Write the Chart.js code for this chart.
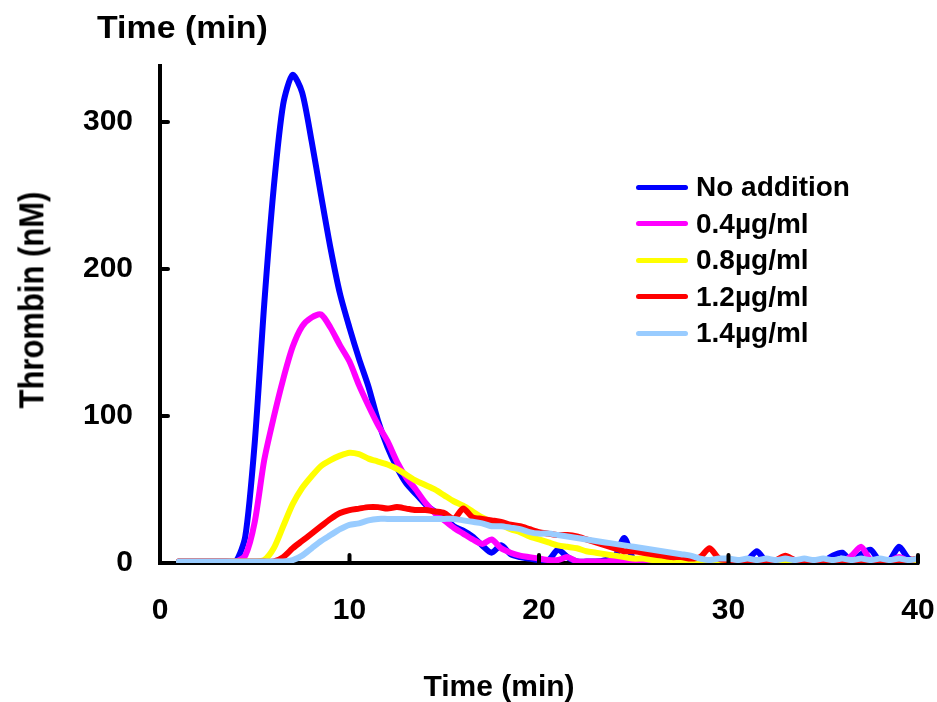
<!DOCTYPE html>
<html>
<head>
<meta charset="utf-8">
<script src="https://cdn.jsdelivr.net/npm/chart.js@4.4.1/dist/chart.umd.min.js"></script>
<style>
  html, body { margin: 0; padding: 0; background: #fff; }
  #wrap { position: relative; width: 937px; height: 702px; font-family: 'Liberation Sans', Arial, sans-serif; font-weight: bold; color: #000; }
  canvas { position: absolute; left: 0; top: 0; }
  .lbl { position: absolute; white-space: nowrap; line-height: 1; }
  #topTitle { left: 97px; top: 11px; font-size: 32px; transform: scaleX(1.06); transform-origin: left center; }
  #xTitle { left: 499px; top: 686px; font-size: 30px; transform: translate(-50%, -50%); }
  #yTitle { left: 32px; top: 300px; font-size: 31px; transform: translate(-50%, -50%) rotate(-90deg) scaleY(1.12); }
  #legend { position: absolute; left: 636px; top: 169px; font-size: 28px; }
  .row { display: flex; align-items: center; height: 36.5px; }
  .swatch { width: 52px; height: 5px; border-radius: 3px; margin-right: 8px; }
</style>
</head>
<body>
<div id="wrap">
  <canvas id="c" width="937" height="702"></canvas>
  <div class="lbl" id="topTitle">Time (min)</div>
  <div class="lbl" id="xTitle">Time (min)</div>
  <div class="lbl" id="yTitle">Thrombin (nM)</div>
  <div id="legend"></div>
</div>
<script>
// ==================== DATA ====================
// sampling every 0.5 min, 1 .. 40
const timeMin = [];
for (let t = 1; t <= 40; t += 0.5) timeMin.push(t);

const seriesNames = ['No addition', '0.4\u00b5g/ml', '0.8\u00b5g/ml', '1.2\u00b5g/ml', '1.4\u00b5g/ml'];
const seriesColors = ['#0000FF', '#FF00FF', '#FFFF00', '#FF0000', '#99CCFF'];

const noAddition = [
  1, 1, 1, 1, 1, 1, 1, 18, 82, 176, 255, 312, 332, 320, 287, 250, 214, 183, 160, 139,
  120, 97, 79, 65, 54, 47, 40, 35, 31, 25, 22, 18, 12, 7, 12, 6, 4, 3, 2, 2,
  9, 4, 1, 1, 1, 2, 4, 17, 2, 1, 1, 1, 1, 1, 1, 1, 1, 1, 1, 1,
  2, 8, 1, 1, 3, 2, 1, 1, 1, 5, 7, 1, 6, 9, 1, 2, 11, 3, 1
];
const dose04 = [
  1, 1, 1, 1, 1, 1, 1, 5, 28, 70, 99, 125, 147, 161, 167, 169, 160, 148, 137, 121,
  107, 94, 83, 69, 58, 50, 41, 34, 29, 24, 20, 16, 13, 16, 10, 7, 5, 4, 3, 2,
  2, 4, 1, 1, 1, 1, 2, 1, 1, 1, 1, 1, 1, 1, 1, 1, 1, 1, 1, 1,
  1, 1, 1, 1, 1, 1, 1, 1, 1, 1, 1, 5, 11, 2, 1, 1, 4, 1, 1
];
const dose08 = [
  1, 1, 1, 1, 1, 1, 1, 1, 1, 2, 10, 25, 40, 51, 59, 66, 70, 73, 75, 74,
  71, 69, 67, 64, 60, 56, 53, 50, 46, 42, 39, 35, 31, 28, 26, 23, 21, 18, 16, 14,
  12, 11, 10, 8, 7, 6, 5, 4, 3, 3, 2, 2, 1, 1, 1, 1, 1, 1, 1, 1,
  1, 1, 1, 1, 1, 1, 1, 1, 1, 1, 1, 1, 1, 1, 1, 1, 1, 1, 1
];
const dose12 = [
  1, 1, 1, 1, 1, 1, 1, 1, 1, 1, 1, 4, 10, 15, 20, 25, 30, 34, 36, 37,
  38, 38, 37, 38, 37, 36, 36, 35, 34, 30, 37, 31, 30, 29, 28, 26, 25, 23, 21, 20,
  19, 19, 18, 16, 14, 12, 10, 8, 8, 7, 6, 5, 4, 4, 3, 4, 10, 3, 2, 2,
  2, 2, 2, 2, 5, 2, 2, 2, 2, 2, 2, 2, 2, 2, 2, 2, 2, 2, 3
];
const dose14 = [
  1, 1, 1, 1, 1, 1, 1, 1, 1, 1, 1, 1, 2, 5, 10, 15, 19, 23, 26, 27,
  29, 30, 30, 30, 30, 30, 30, 30, 30, 30, 29, 28, 27, 25, 25, 24, 23, 21, 20, 20,
  19, 18, 17, 16, 15, 14, 13, 12, 11, 10, 9, 8, 7, 6, 5, 3, 2, 3, 3, 2,
  3, 2, 3, 2, 3, 2, 3, 2, 3, 2, 3, 2, 3, 2, 3, 2, 3, 2, 3
];

const xTicks = [0, 10, 20, 30, 40];
const yTicks = [0, 100, 200, 300];

// ==================== CHART ====================
const allSeries = [noAddition, dose04, dose08, dose12, dose14];
const FONT = "'Liberation Sans', Arial, sans-serif";

// inner tick marks (pointing into the plot)
const innerTicks = {
  id: 'innerTicks',
  afterDatasetsDraw(chart) {
    const { ctx, chartArea, scales } = chart;
    ctx.save();
    ctx.strokeStyle = '#000';
    ctx.lineWidth = 4;
    ctx.lineCap = 'round';
    xTicks.slice(1).forEach(v => {
      const px = scales.x.getPixelForValue(v);
      ctx.beginPath();
      ctx.moveTo(px, chartArea.bottom);
      ctx.lineTo(px, chartArea.bottom - 8);
      ctx.stroke();
    });
    yTicks.slice(1).forEach(v => {
      const py = scales.y.getPixelForValue(v);
      ctx.beginPath();
      ctx.moveTo(chartArea.left, py);
      ctx.lineTo(chartArea.left + 8, py);
      ctx.stroke();
    });
    ctx.restore();
  }
};

new Chart(document.getElementById('c').getContext('2d'), {
  type: 'line',
  data: {
    labels: timeMin,
    datasets: allSeries.map((vals, i) => ({
      label: seriesNames[i],
      data: vals.map((v, j) => ({ x: timeMin[j], y: v })),
      borderColor: seriesColors[i],
      backgroundColor: seriesColors[i],
      borderWidth: 6,
      pointRadius: 0,
      tension: 0.25,
      borderCapStyle: 'round',
      borderJoinStyle: 'round',
      order: allSeries.length - i
    }))
  },
  options: {
    responsive: false,
    animation: false,
    layout: { padding: { left: 0, right: 19, top: 66, bottom: 0 } },
    plugins: {
      legend: { display: false },
      tooltip: { enabled: false }
    },
    scales: {
      x: {
        type: 'linear',
        min: 0,
        max: 40,
        afterBuildTicks: s => { s.ticks = xTicks.map(v => ({ value: v })); },
        afterFit: s => { s.height = 139; s.paddingLeft = 0; s.paddingRight = 0; },
        grid: { display: false, drawTicks: false },
        border: { display: true, color: '#000', width: 4 },
        ticks: { color: '#000', padding: 30, maxRotation: 0, font: { family: FONT, size: 30, weight: 'bold' } }
      },
      y: {
        min: 0,
        max: 338,
        afterBuildTicks: s => { s.ticks = yTicks.map(v => ({ value: v })); },
        afterFit: s => { s.width = 160; s.paddingTop = 0; s.paddingBottom = 0; },
        grid: { display: false, drawTicks: false },
        border: { display: true, color: '#000', width: 4 },
        ticks: { color: '#000', padding: 27, font: { family: FONT, size: 30, weight: 'bold' } }
      }
    }
  },
  plugins: [innerTicks]
});

// legend
const legend = document.getElementById('legend');
legend.innerHTML = seriesNames.map((n, i) =>
  `<div class="row"><span class="swatch" style="background:${seriesColors[i]}"></span>${n}</div>`
).join('');
</script>
</body>
</html>
